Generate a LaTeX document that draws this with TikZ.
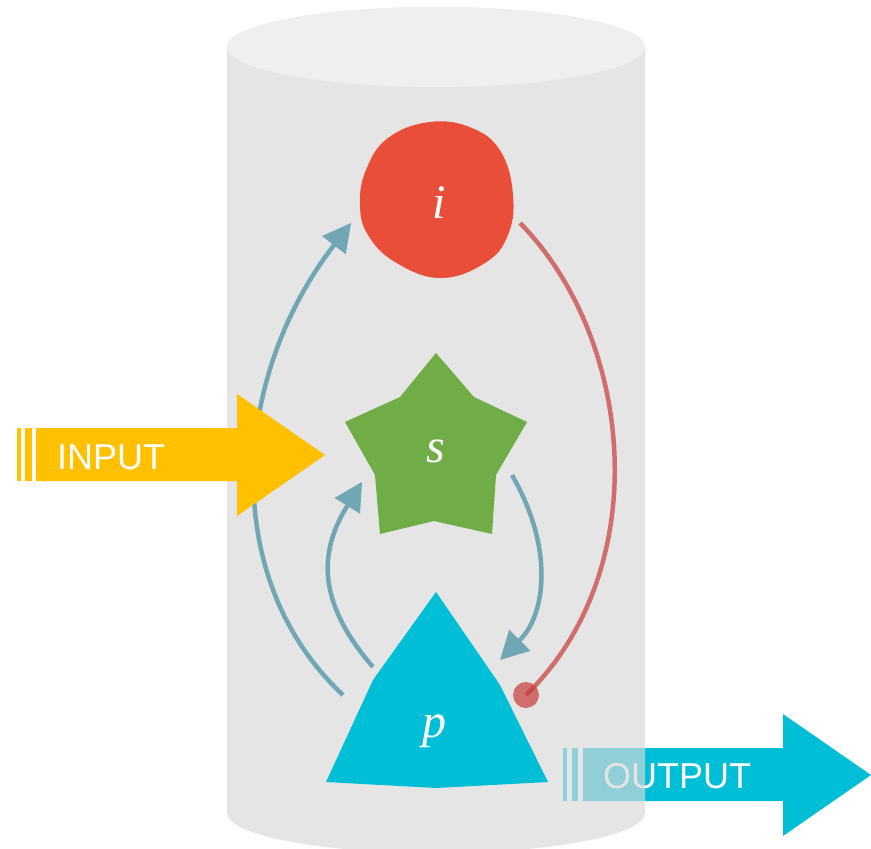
\documentclass[tikz,border=0pt]{standalone}
\usepackage{fontspec}
\setmainfont{Liberation Serif}
\setsansfont{Liberation Sans}
\usetikzlibrary{arrows.meta}
\definecolor{cylgray}{RGB}{216,216,216}
\definecolor{cyltop}{RGB}{239,239,239}
\definecolor{ired}{RGB}{233,79,56}
\definecolor{sgreen}{RGB}{112,173,71}
\definecolor{pcyan}{RGB}{0,190,214}
\definecolor{inyellow}{RGB}{255,192,0}
\definecolor{tealc}{RGB}{75,145,165}
\definecolor{redl}{RGB}{200,60,60}
\begin{document}
\begin{tikzpicture}[x=1pt,y=-1pt,
  lbl/.style={text=white,inner sep=0pt,anchor=base,font=\fontsize{48}{48}\selectfont\itshape},
  arrtxt/.style={text=white,inner sep=0pt,anchor=base west,font=\fontsize{36}{36}\selectfont\sffamily},
  flow/.style={draw=tealc,opacity=0.75,line width=4.5pt,
    -{Triangle[length=28pt,width=30pt,line width=0pt,fill=tealc]}},
  inhib/.style={draw=redl,opacity=0.7,line width=4.5pt}
]
\useasboundingbox (0,0) rectangle (871,849);

% OUTPUT arrow (behind the cylinder)
\fill[pcyan] (563,748) rectangle (567,801);
\fill[pcyan] (572,748) rectangle (578,801);
\fill[pcyan] (583,748) -- (783,748) -- (783,714) -- (871,775) -- (783,836) -- (783,801) -- (583,801) -- cycle;
\node[arrtxt] (output) at (603,788) {OUTPUT};

% cylinder
\fill[cylgray,fill opacity=0.67] (227,47) -- (227,813)
  .. controls (227,835.1) and (320.8,853) .. (436,853)
  .. controls (551.2,853) and (645,835.1) .. (645,813)
  -- (645,47)
  .. controls (645,24.9) and (551.2,7) .. (436,7)
  .. controls (320.8,7) and (227,24.9) .. (227,47) -- cycle;
\fill[cyltop] (436,47) ellipse [x radius=209, y radius=40];

% connector end points
\coordinate (a1s) at (343,695);
\coordinate (a1e) at (351,223);
\coordinate (a2s) at (373,667);
\coordinate (a2e) at (362,482);
\coordinate (a3s) at (512,475);
\coordinate (a3e) at (500,660);
\coordinate (rs) at (520,223);
\coordinate (re) at (526,695);

% connectors
\draw[flow] (a1s) .. controls (220,580) and (230,380) .. (a1e);
\draw[flow] (a2s) .. controls (315,600) and (320,550) .. (a2e);
\draw[flow] (a3s) .. controls (555,550) and (545,615) .. (a3e);
\draw[inhib] (rs) .. controls (635,340) and (655,570) .. (re);
\fill[redl,fill opacity=0.7] (re) circle [radius=13];

% i : red blob
\fill[ired] plot[smooth cycle,tension=0.7] coordinates {
  (360,205) (366,170) (388,138) (430,122) (472,128) (501,152)
  (513,195) (508,235) (485,263) (440,278) (395,262) (368,235)};
\node[lbl] (i) at (439,218) {i};

% s : green star
\fill[sgreen] (436,353) -- (474,397) -- (527,422) -- (496,475) -- (492,534)
  -- (434,521) -- (380,534) -- (375,475) -- (345,422) -- (400,397) -- cycle;
\node[lbl] (s) at (436,462) {s};

% p : cyan triangle
\fill[pcyan] (436,592) -- (373,680) -- (326,782) -- (436,788) -- (548,782) -- (500,685) -- cycle;
\node[lbl] (p) at (434,737) {p};

% INPUT arrow (in front)
\fill[inyellow] (17,428) rectangle (21,481);
\fill[inyellow] (25,428) rectangle (32,481);
\fill[inyellow] (36,428) -- (237,428) -- (237,394) -- (325,455) -- (237,516) -- (237,481) -- (36,481) -- cycle;
\node[arrtxt] (input) at (57,469) {INPUT};
\end{tikzpicture}
\end{document}
